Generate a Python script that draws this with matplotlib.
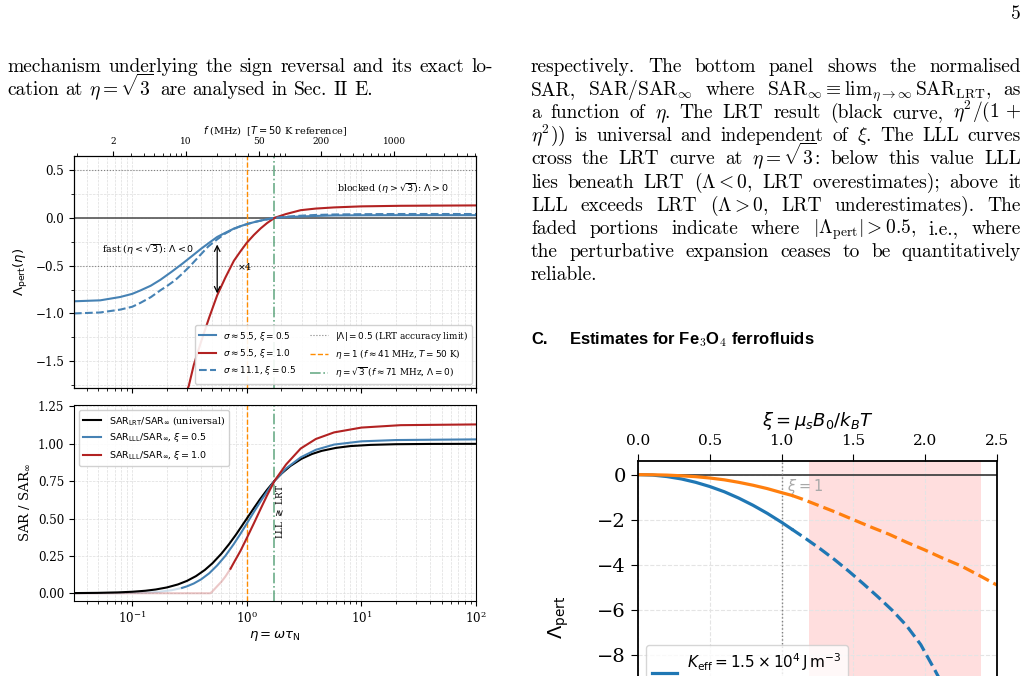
import re
import matplotlib
matplotlib.use("Agg")
import matplotlib.pyplot as plt
from matplotlib.ticker import AutoMinorLocator, NullFormatter

W, H = 1028, 676

# ===== texto da pagina =====
left_lines = [
    "mechanism underlying the sign reversal and its exact lo-",
    r"cation at $\eta = \sqrt{3}$ are analysed in Sec. II E.",
]
right_lines = [
    "respectively.  The bottom panel shows the normalised",
    r"SAR, SAR/SAR$_\infty$ where SAR$_\infty \equiv \mathrm{lim}_{\eta\rightarrow\infty}\,\mathrm{SAR}_\mathrm{LRT}$, as",
    r"a function of $\eta$.  The LRT result (black curve, $\eta^2/(1\,+$",
    r"$\eta^2$)) is universal and independent of $\xi$.  The LLL curves",
    r"cross the LRT curve at $\eta = \sqrt{3}$: below this value LLL",
    r"lies beneath LRT ($\Lambda < 0$, LRT overestimates); above it",
    r"LLL exceeds LRT ($\Lambda > 0$, LRT underestimates).  The",
    r"faded portions indicate where $|\Lambda_\mathrm{pert}| > 0.5$, i.e., where",
    "the perturbative expansion ceases to be quantitatively",
    "reliable.",
]
heading_num = "C."
heading_txt = r"Estimates for Fe$_3$O$_4$ ferrofluids"
page_num = "5"

# ===== painel superior: Lambda_pert(eta) =====
eta_blue = [0.031, 0.0525, 0.0785, 0.1, 0.1175, 0.145, 0.176, 0.22, 0.272, 0.344, 0.40, 0.47, 0.551,
            0.65, 0.77, 0.88, 1.0, 1.15, 1.35, 1.745, 2.2, 2.95, 4.0, 5.77, 10.0, 20.0, 102]
lam_blue = [-0.873, -0.863, -0.828, -0.795, -0.760, -0.710, -0.648, -0.565, -0.482, -0.385, -0.322, -0.260, -0.200,
            -0.156, -0.113, -0.087, -0.066, -0.046, -0.026, 0.0, 0.008, 0.014, 0.020, 0.025, 0.027, 0.028, 0.028]
eta_dash = [0.031, 0.0525, 0.0785, 0.1, 0.1175, 0.145, 0.176, 0.2, 0.235, 0.27, 0.322, 0.39, 0.46, 0.551,
            0.65, 0.77, 0.88, 1.0, 1.15, 1.35, 1.745, 2.2, 2.95, 4.0, 5.77, 10.0, 20.0, 102]
lam_dash = [-1.0, -0.99, -0.96, -0.93, -0.89, -0.83, -0.758, -0.715, -0.655, -0.59, -0.50, -0.392, -0.300, -0.225,
            -0.163, -0.115, -0.088, -0.066, -0.045, -0.027, 0.0, 0.012, 0.022, 0.030, 0.035, 0.038, 0.040, 0.040]
eta_red = [0.031, 0.1, 0.176, 0.22, 0.272, 0.311, 0.344, 0.40, 0.47, 0.551, 0.65, 0.77, 0.88, 1.0,
           1.15, 1.318, 1.5, 1.745, 2.2, 2.95, 4.0, 5.77, 10.0, 22.0, 102]
lam_red = [-3.49, -3.1, -2.6, -2.26, -1.93, -1.76, -1.54, -1.29, -1.04, -0.81, -0.624, -0.45, -0.35, -0.26,
           -0.18, -0.111, -0.055, 0.0, 0.04, 0.08, 0.097, 0.109, 0.12, 0.126, 0.13]

# ===== painel inferior: SAR / SAR_inf =====
eta_lrt = [0.031, 0.05, 0.075, 0.1, 0.13, 0.16, 0.2, 0.25, 0.3, 0.36, 0.43, 0.5, 0.6, 0.7, 0.8, 0.9, 1.0,
           1.15, 1.3, 1.5, 1.745, 2.0, 2.4, 3.0, 3.7, 4.5, 6.0, 8.0, 12.0, 20.0, 40.0, 102]
sar_lrt = [0.001, 0.0025, 0.0056, 0.0099, 0.0166, 0.025, 0.0385, 0.0588, 0.0826, 0.1147, 0.156, 0.2, 0.265,
           0.329, 0.39, 0.448, 0.5, 0.569, 0.628, 0.692, 0.753, 0.8, 0.852, 0.9, 0.932, 0.953, 0.973, 0.985,
           0.993, 0.9975, 0.9994, 1.0]
eta_b_fade = [0.031, 0.05, 0.0785, 0.1175, 0.145, 0.176, 0.22, 0.272]
sar_b_fade = [0.0001, 0.0003, 0.001, 0.0033, 0.006, 0.0106, 0.0201, 0.0357]
eta_b = [0.272, 0.30, 0.344, 0.40, 0.47, 0.551, 0.65, 0.77, 0.88, 1.0, 1.15, 1.35, 1.745, 2.2, 2.95,
         4.0, 5.77, 10.0, 20.0, 102]
sar_b = [0.0357, 0.0461, 0.0651, 0.0935, 0.1339, 0.1863, 0.2507, 0.3298, 0.3984, 0.467, 0.5432, 0.6276,
         0.7528, 0.8354, 0.9095, 0.960, 0.9951, 1.0168, 1.0254, 1.030]
eta_r_fade = [0.031, 0.3, 0.48, 0.5, 0.551, 0.60, 0.65, 0.72]
sar_r_fade = [0.0, 0.0, 0.0, 0.012, 0.047, 0.077, 0.112, 0.164]
eta_r = [0.72, 0.77, 0.88, 1.0, 1.15, 1.318, 1.5, 1.745, 2.2, 2.95, 4.0, 5.77, 10.0, 22.0, 102]
sar_r = [0.164, 0.2047, 0.2837, 0.37, 0.4669, 0.5641, 0.6542, 0.7528, 0.862, 0.9687, 1.0325, 1.0766,
         1.1089, 1.125, 1.13]

eta_marks = [1.0, 1.732]
lam_limit = [0.5, -0.5]
f_ticks = [2, 10, 50, 200, 1000]
sar_ticks = [0.0, 0.25, 0.5, 0.75, 1.0, 1.25]

# ===== painel direito: Lambda_pert(xi) =====
xi_b = [0.0, 0.1, 0.2, 0.3, 0.4, 0.5, 0.6, 0.7, 0.8, 0.9, 1.0, 1.07]
lb = [0.0, -0.02, -0.085, -0.19, -0.34, -0.53, -0.76, -1.04, -1.36, -1.72, -2.12, -2.42]
xi_b_d = [1.07, 1.17, 1.27, 1.37, 1.47, 1.57, 1.67, 1.77, 1.87, 1.97, 2.07, 2.17, 2.27, 2.37]
lb_d = [-2.42, -2.85, -3.3, -3.78, -4.3, -4.85, -5.42, -6.02, -6.7, -7.55, -8.7, -9.9, -11.2, -12.6]
xi_o = [0.0, 0.1, 0.2, 0.3, 0.4, 0.5, 0.6, 0.7, 0.8, 0.9, 1.0, 1.07]
lo = [0.0, -0.005, -0.02, -0.05, -0.09, -0.15, -0.23, -0.34, -0.47, -0.62, -0.80, -0.92]
xi_o_d = [1.07, 1.15, 1.25, 1.37, 1.5, 1.62, 1.75, 1.87, 2.0, 2.12, 2.25, 2.37, 2.5]
lo_d = [-0.92, -1.1, -1.35, -1.65, -2.0, -2.32, -2.65, -3.0, -3.35, -3.7, -4.05, -4.45, -4.9]
xi_band = [1.19, 2.39]

plt.rcParams["font.family"] = "DejaVu Serif"
plt.rcParams["mathtext.fontset"] = "dejavusans"

fig = plt.figure(figsize=(W / 100, H / 100), dpi=100)
renderer = fig.canvas.get_renderer()

BLUE, RED = "#4682b4", "#b22222"


def place_line(line, x0, x1, y, justify, size=14.0, min_gap=4.0):
    words = re.findall(r"(?:\$[^$]*\$|\S)+", line)
    arts = [fig.text(x0 / W, 1 - y / H, w, fontsize=size, family="cmr10",
                     math_fontfamily="cm", va="baseline") for w in words]
    widths = [a.get_window_extent(renderer).width for a in arts]
    room = x1 - x0 - min_gap * (len(words) - 1)
    if justify and sum(widths) > room:
        k = room / sum(widths)
        for a in arts:
            a.set_fontsize(size * k)
        widths = [a.get_window_extent(renderer).width for a in arts]
    if justify and len(words) > 1:
        gap = (x1 - x0 - sum(widths)) / (len(words) - 1)
    else:
        gap = size * 100 / 72 * 0.333
    x = x0
    for a, wd in zip(arts, widths):
        a.set_x(x / W)
        x += wd + gap


for i, line in enumerate(left_lines):
    place_line(line, 7, 493, 72 + 23.1 * i, i < len(left_lines) - 1)
for i, line in enumerate(right_lines):
    place_line(line, 531, 1021, 72 + 23.1 * i, i < len(right_lines) - 1)

fig.text(1021 / W, 1 - 19 / H, page_num, fontsize=14, family="cmr10", ha="right", va="baseline")
fig.text(531 / W, 1 - 344 / H, heading_num, fontsize=12, family="Liberation Sans",
         weight="bold", va="baseline")
fig.text(569 / W, 1 - 344 / H, heading_txt, fontsize=12, family="Liberation Sans",
         weight="bold", va="baseline", math_fontfamily="cm")

# === painel superior ===
ax1 = fig.add_axes([74 / W, 1 - 388 / H, 402 / W, 232.3 / H])
ax2 = fig.add_axes([74 / W, 1 - 600.7 / H, 402 / W, 195.7 / H], sharex=ax1)

ax1.set_xscale("log")
ax1.set_xlim(0.031, 100)
ax1.set_ylim(-1.78, 0.65)
ax1.axhline(0, color="#555555", lw=1.2)
h_lim = None
for v in lam_limit:
    h_lim = ax1.axhline(v, color="gray", ls=":", lw=0.8)
h_or = ax1.axvline(eta_marks[0], color="darkorange", ls="--", lw=1.0)
h_gr = ax1.axvline(eta_marks[1], color="seagreen", ls="-.", lw=1.2, alpha=0.7)
h_b, = ax1.plot(eta_blue, lam_blue, color=BLUE, lw=1.5)
h_r, = ax1.plot(eta_red, lam_red, color=RED, lw=1.5)
h_d, = ax1.plot(eta_dash, lam_dash, color=BLUE, lw=1.5, ls="--")
ax1.annotate("", xy=(0.551, -0.82), xytext=(0.551, -0.25),
             arrowprops=dict(arrowstyle="<->", color="black", lw=0.9))
ax1.text(0.813, -0.51, r"$\times$4", fontsize=6.8, va="center")
ax1.text(0.0547, -0.33, r"fast ($\eta < \sqrt{3}$): $\Lambda < 0$", fontsize=6.8, va="center")
ax1.text(6.08, 0.308, r"blocked ($\eta > \sqrt{3}$): $\Lambda > 0$", fontsize=6.8, va="center")
ax1.legend([h_b, h_r, h_d, h_lim, h_or, h_gr],
           [r"$\sigma \approx 5.5$, $\xi = 0.5$", r"$\sigma \approx 5.5$, $\xi = 1.0$",
            r"$\sigma \approx 11.1$, $\xi = 0.5$", r"$|\Lambda| = 0.5$ (LRT accuracy limit)",
            r"$\eta = 1$ ($f \approx 41$ MHz, $T = 50$ K)",
            r"$\eta = \sqrt{3}$ ($f \approx 71$ MHz, $\Lambda = 0$)"],
           ncol=2, loc="lower right", fontsize=6.4, framealpha=0.9, columnspacing=1.5)
ax1.yaxis.set_minor_locator(AutoMinorLocator(2))
ax1.grid(True, which="both", ls="--", lw=0.5, color="#dddddd")
ax1.set_ylabel(r"$\Lambda_\mathrm{pert}(\eta)$", fontsize=9.5)
ax1.tick_params(labelsize=8.6, labelbottom=False)

ax1t = ax1.twiny()
ax1t.set_xscale("log")
ax1t.set_xlim(0.85, 6070)
ax1t.set_xticks(f_ticks, [str(t) for t in f_ticks])
ax1t.xaxis.set_minor_formatter(NullFormatter())
ax1t.tick_params(labelsize=6.5)
ax1t.set_xlabel(r"$f$ (MHz)  [$T = 50$ K reference]", fontsize=7, labelpad=2)

# === painel inferior ===
ax2.set_ylim(-0.05, 1.26)
ax2.set_yticks(sar_ticks)
ax2.axvline(eta_marks[0], color="darkorange", ls="--", lw=1.0)
ax2.axvline(eta_marks[1], color="seagreen", ls="-.", lw=1.2, alpha=0.7)
ax2.plot(eta_b_fade, sar_b_fade, color=BLUE, lw=1.5, alpha=0.25)
ax2.plot(eta_r_fade, sar_r_fade, color=RED, lw=1.5, alpha=0.25)
ax2.plot(eta_lrt, sar_lrt, color="black", lw=1.5,
         label=r"$\mathrm{SAR_{LRT}/SAR_\infty}$ (universal)")
ax2.plot(eta_b, sar_b, color=BLUE, lw=1.5, label=r"$\mathrm{SAR_{LLL}/SAR_\infty}$, $\xi = 0.5$")
ax2.plot(eta_r, sar_r, color=RED, lw=1.5, label=r"$\mathrm{SAR_{LLL}/SAR_\infty}$, $\xi = 1.0$")
ax2.text(1.97, 0.545, r"LLL $\gtrless$ LRT", rotation=90, fontsize=6.5, ha="center", va="center")
ax2.legend(loc="upper left", fontsize=6.8, framealpha=0.9)
ax2.grid(True, which="both", ls="--", lw=0.5, color="#dddddd")
ax2.set_ylabel(r"SAR / SAR$_\infty$", fontsize=9.5)
ax2.set_xlabel(r"$\eta = \omega\tau_\mathrm{N}$", fontsize=9.5, labelpad=2)
ax2.tick_params(labelsize=8.6)

# === painel direito ===
ax3 = fig.add_axes([638.3 / W, 1 - 774 / H, 358.4 / W, (774 - 460.7) / H])
ax3.set_xlim(0, 2.5)
ax3.set_ylim(-13.3, 0.62)
ax3.axvspan(xi_band[0], xi_band[1], color="red", alpha=0.13, lw=0)
ax3.axhline(0, color="#444444", lw=1.3)
ax3.axvline(1.0, color="gray", ls=":", lw=1.0)
ax3.text(1.04, -0.12, r"$\xi = 1$", color="#a8a8a8", fontsize=10.5, va="top")
hb, = ax3.plot(xi_b, lb, color="#1f77b4", lw=2.3)
ax3.plot(xi_b_d, lb_d, color="#1f77b4", lw=2.3, ls="--")
ho, = ax3.plot(xi_o, lo, color="#ff7f0e", lw=2.3)
ax3.plot(xi_o_d, lo_d, color="#ff7f0e", lw=2.3, ls="--")
ax3.legend([hb, ho],
           [r"$K_\mathrm{eff} = 1.5\times10^4\,\mathrm{J\,m^{-3}}$" + "\n" + r"($\sigma \approx 3.3$, $\xi_c \approx 0.15$)",
            r"$K_\mathrm{eff} = 5\times10^3\,\mathrm{J\,m^{-3}}$" + "\n" + r"($\sigma \approx 1.1$, $\xi_c \approx 0.45$)"],
           loc="upper left", bbox_to_anchor=(646 / W, 1 - 645 / H), bbox_transform=fig.transFigure,
           borderaxespad=0, fontsize=11, handlelength=1.6, handletextpad=0.7)
ax3.grid(True, ls="--", lw=0.8, color="#e4e4e4")
ax3.xaxis.tick_top()
ax3.xaxis.set_label_position("top")
ax3.tick_params(axis="x", labelsize=11, length=5, pad=4)
ax3.tick_params(axis="y", labelsize=14, length=5, pad=4)
ax3.set_xlabel(r"$\xi = \mu_s B_0/k_B T$", fontsize=13, labelpad=6)
ax3.set_ylabel(r"$\Lambda_\mathrm{pert}$", fontsize=14, labelpad=10)
for s in ax3.spines.values():
    s.set_linewidth(1.3)

fig.savefig("out.png", dpi=100)
